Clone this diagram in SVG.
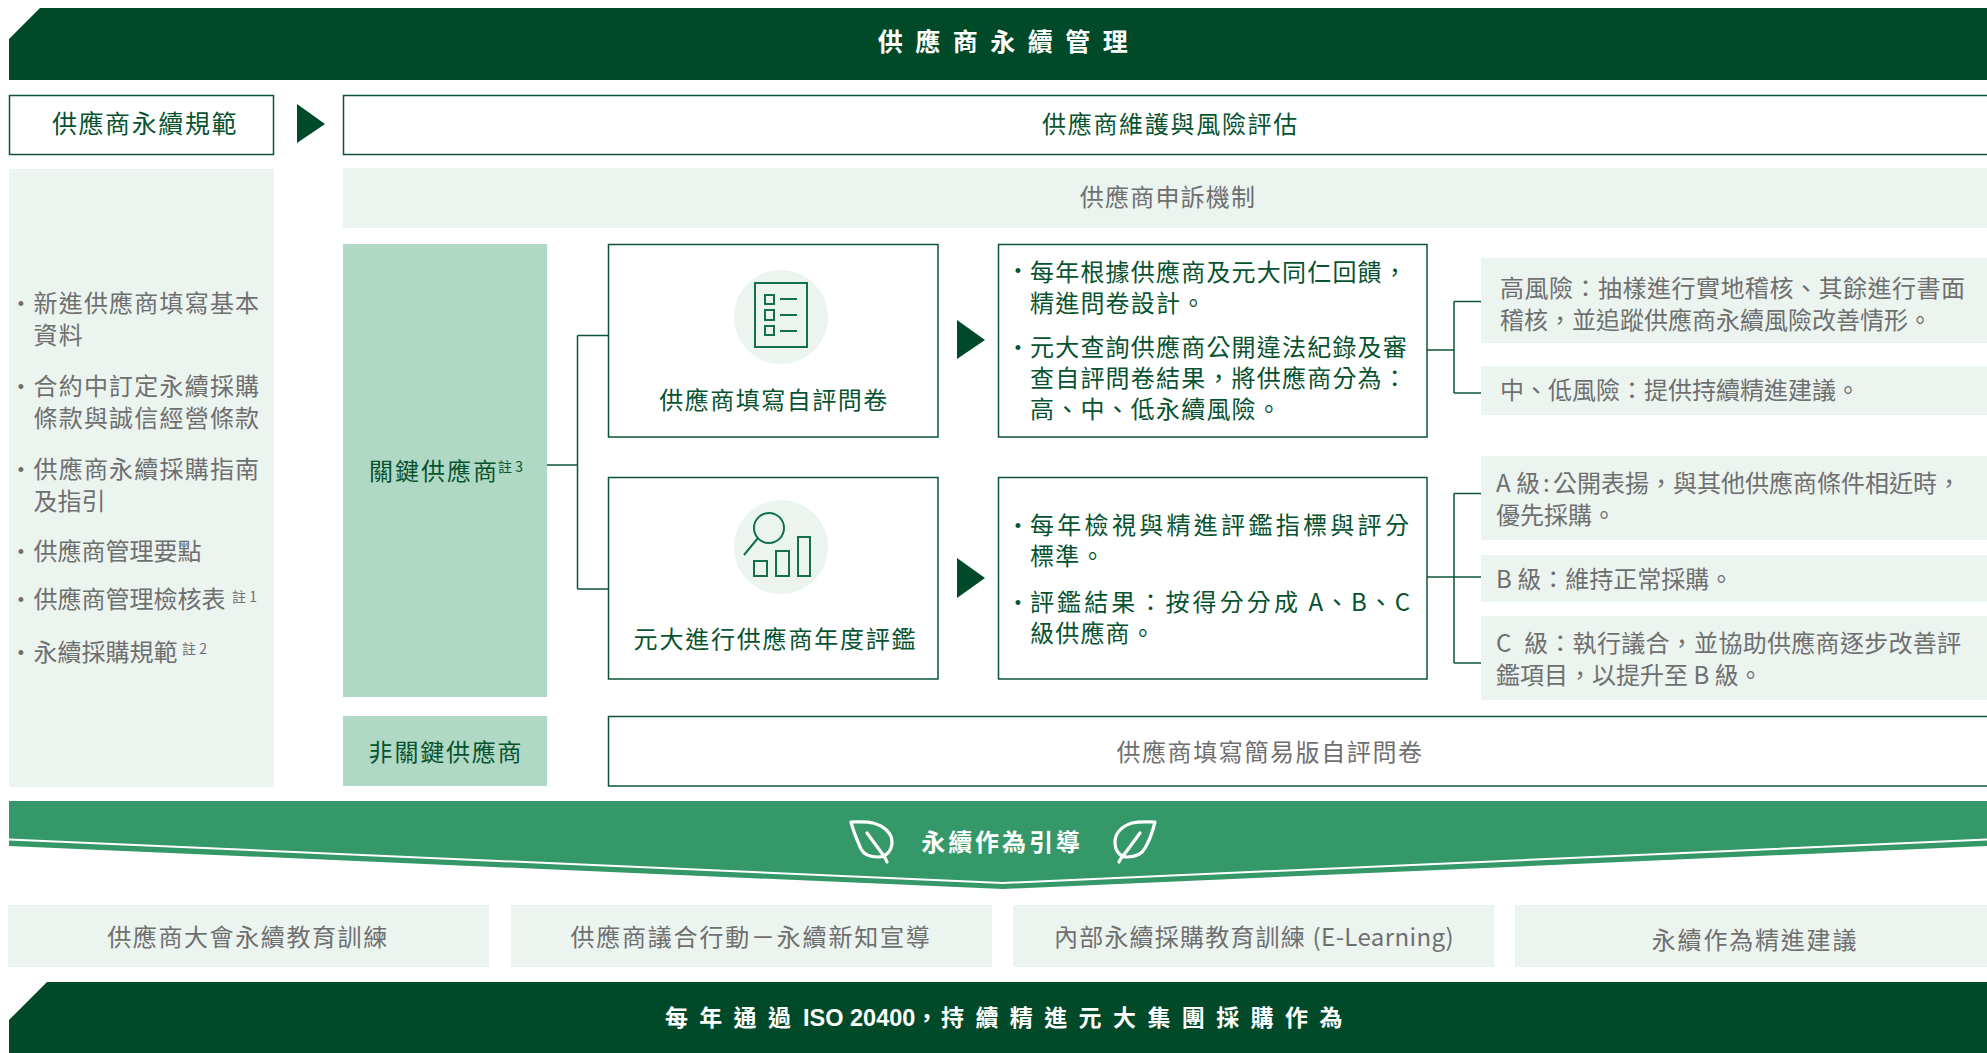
<svg xmlns="http://www.w3.org/2000/svg" width="1987" height="1053" viewBox="0 0 1987 1053">
<style>
text{font-family:"Noto Sans CJK TC","Noto Sans CJK SC",sans-serif;font-size:24px;letter-spacing:1.2px}
.g{fill:#6f6f6f}.d{fill:#07532f}.w{fill:#fff;font-weight:700}
.m{text-anchor:middle}
.z{letter-spacing:0}
.s{font-size:14px;letter-spacing:0}
.bt{font-family:"Liberation Sans","Noto Sans CJK TC",sans-serif;font-size:18px;letter-spacing:0;text-anchor:middle}
.box{fill:#fff;stroke:#0b5435;stroke-width:1.5}
.lt{fill:#ebf4ef}.md{fill:#afd8c5}.dk{fill:#004a29}
.con{fill:none;stroke:#0b5435;stroke-width:1.5}
.ic{fill:none;stroke:#127146;stroke-width:2}
.lf{fill:none;stroke:#fff;stroke-width:3.2;stroke-linecap:round;stroke-linejoin:round}
</style>
<g id="connectors">
<path class="con" d="M547 465H577.5M577.5 335.500V589M577.5 335.500H608M577.5 589H608"/>
<path class="con" d="M1427 350H1454M1454 301.500V393M1454 301.500H1483M1454 393H1483"/>
<path class="con" d="M1427 577H1481M1454 493.500V663M1454 493.500H1483M1454 663H1483"/>
<path class="dk" d="M297 104L325 124L297 143Z"/>
<path class="dk" d="M957 320L985 340L957 359Z"/>
<path class="dk" d="M957 558L985 578L957 598Z"/>
</g>
<g id="title"><path class="dk" d="M9 39L40 8H1987V80H9Z"/>
<text class="w m" x="1009" y="51" style="font-size:25px;letter-spacing:12.500px">供應商永續管理</text></g>
<g id="norm"><rect class="box" x="9.500" y="95.500" width="264" height="59"/><text class="d m" x="145" y="133" style="font-size:25px;letter-spacing:1.600px">供應商永續規範</text></g>
<g id="maintain"><rect class="box" x="343.500" y="95.500" width="1650" height="59"/><text class="d m" x="1170.500" y="133" style="letter-spacing:1.700px">供應商維護與風險評估</text></g>
<g id="appeal"><rect class="lt" x="343" y="168" width="1644" height="60"/><text class="g m" x="1168" y="206">供應商申訴機制</text></g>
<g id="norm-list"><rect class="lt" x="9" y="169" width="265" height="618"/>
<text class="g bt" x="21" y="309.500">•</text><text class="g" x="33.500" y="312">新進供應商填寫基本</text><text class="g" x="33.500" y="344">資料</text>
<text class="g bt" x="21" y="392.500">•</text><text class="g" x="33.500" y="395">合約中訂定永續採購</text><text class="g" x="33.500" y="427">條款與誠信經營條款</text>
<text class="g bt" x="21" y="475.500">•</text><text class="g" x="33.500" y="478">供應商永續採購指南</text><text class="g z" x="33.500" y="510">及指引</text>
<text class="g bt" x="21" y="557.500">•</text><text class="g z" x="33.500" y="560">供應商管理要點</text>
<text class="g bt" x="21" y="605.500">•</text><text class="g z" x="33.500" y="608">供應商管理檢核表</text><text class="g s" x="232" y="602">註 1</text>
<text class="g bt" x="21" y="658.500">•</text><text class="g z" x="33.500" y="661">永續採購規範</text><text class="g s" x="182" y="654">註 2</text></g>
<g id="key"><rect class="md" x="343" y="244" width="204" height="453"/><text class="d" x="369" y="480" style="letter-spacing:2px">關鍵供應商</text><text class="d s" x="498" y="472">註 3</text></g>
<g id="nonkey"><rect class="md" x="343" y="716" width="204" height="70"/><text class="d m" x="446" y="761" style="letter-spacing:1.800px">非關鍵供應商</text></g>
<g id="simple"><rect class="box" x="608.500" y="716.500" width="1385" height="69.500"/><text class="g m" x="1270" y="761" style="letter-spacing:1.600px">供應商填寫簡易版自評問卷</text></g>
<g id="self"><rect class="box" x="608.500" y="244.500" width="329.500" height="192.500"/><circle class="lt" cx="781" cy="317" r="47"/>
<path class="ic" d="M755 283H807V347H755ZM765 295H774V304H765ZM765 310H774V320H765ZM765 326H774V335H765ZM780 299H797M780 315H797M780 331H797"/>
<text class="d m" x="774" y="409" style="letter-spacing:1.500px">供應商填寫自評問卷</text></g>
<g id="annual"><rect class="box" x="608.500" y="477.500" width="329.500" height="201.500"/><circle class="lt" cx="781" cy="547" r="47"/>
<circle class="ic" cx="769" cy="528" r="15"/><path class="ic" d="M758 538L744 555M754 561H767V576H754ZM776 551H789V576H776ZM798 537H810V576H798Z"/>
<text class="d m" x="775.500" y="648" style="letter-spacing:1.800px">元大進行供應商年度評鑑</text></g>
<g id="self-detail"><rect class="box" x="998.500" y="244.500" width="428.500" height="192.500"/>
<text class="d bt" x="1018" y="276.500">•</text><text class="d" x="1030" y="281">每年根據供應商及元大同仁回饋，</text><text class="d" x="1030" y="312">精進問卷設計。</text>
<text class="d bt" x="1018" y="353.500">•</text><text class="d" x="1030" y="356">元大查詢供應商公開違法紀錄及審</text><text class="d" x="1030" y="387">查自評問卷結果，將供應商分為：</text><text class="d" x="1030" y="418">高、中、低永續風險。</text></g>
<g id="annual-detail"><rect class="box" x="998.500" y="477.500" width="428.500" height="201.500"/>
<text class="d bt" x="1018" y="531.500">•</text><text class="d" x="1030" y="534" style="letter-spacing:3.300px">每年檢視與精進評鑑指標與評分</text><text class="d" x="1030" y="565">標準。</text>
<text class="d bt" x="1018" y="608.500">•</text><text class="d" x="1030" y="611" style="letter-spacing:3.100px">評鑑結果：按得分分成<tspan style="letter-spacing:2px"> A、B、C</tspan></text><text class="d" x="1030" y="642">級供應商。</text></g>
<g id="high"><rect class="lt" x="1481" y="258" width="506" height="85"/><text class="g" x="1500" y="297" style="letter-spacing:.5px">高風險：抽樣進行實地稽核、其餘進行書面</text><text class="g z" x="1500" y="329">稽核，並追蹤供應商永續風險改善情形。</text></g>
<g id="low"><rect class="lt" x="1481" y="366" width="506" height="49"/><text class="g z" x="1500" y="399">中、低風險：提供持續精進建議。</text></g>
<g id="a"><rect class="lt" x="1481" y="456" width="506" height="84"/><text class="g z" x="1496" y="492">A 級<tspan x="1543">:</tspan><tspan x="1553">公開表揚，與其他供應商條件相近時，</tspan></text><text class="g z" x="1496" y="524">優先採購。</text></g>
<g id="b"><rect class="lt" x="1481" y="555" width="506" height="47"/><text class="g z" x="1496" y="588">B 級：維持正常採購。</text></g>
<g id="c"><rect class="lt" x="1481" y="616" width="506" height="84"/><text class="g" x="1496" y="652" style="letter-spacing:.3px">C<tspan x="1524">級：執行議合，並協助供應商逐步改善評</tspan></text><text class="g z" x="1496" y="684">鑑項目，以提升至 B 級。</text></g>
<g id="guide"><path fill="#359869" d="M9 801H1987V846L1003 889L9 846Z"/>
<path fill="none" stroke="#fff" stroke-width="2" d="M9 839.500L1003 883L1987 839.500"/>
<path class="lf" d="M851 822C858 822 866 821 873 823C884 826 892 833 892 842C892 851 886 857 878 857C870 857 864 855 861 849C857 840 853 830 851 822ZM867 833L881 852C884 856 886 859 887 862"/>
<path class="lf" d="M1155 822C1148 822 1140 821 1132 823C1122 826 1115 833 1115 842C1115 851 1120 857 1127 857C1135 857 1142 854 1145 848C1150 840 1153 830 1155 822ZM1140 833L1126 852C1123 856 1120 859 1119 862"/>
<text class="w m" x="1002" y="851" style="letter-spacing:2.900px">永續作為引導</text></g>
<g id="p1"><rect class="lt" x="8" y="905" width="481" height="62"/><text class="g m" x="248" y="946" style="letter-spacing:1.600px">供應商大會永續教育訓練</text></g>
<g id="p2"><rect class="lt" x="511" y="905" width="481" height="62"/><text class="g m" x="751" y="946" style="letter-spacing:1.800px">供應商議合行動－永續新知宣導</text></g>
<g id="p3"><rect class="lt" x="1013" y="905" width="481" height="62"/><text class="g" x="1054" y="946">內部永續採購教育訓練 <tspan style="letter-spacing:.4px">(E-Learning)</tspan></text></g>
<g id="p4"><rect class="lt" x="1515" y="905" width="472" height="62"/><text class="g m" x="1755" y="949" style="letter-spacing:1.800px">永續作為精進建議</text></g>
<g id="foot"><path class="dk" d="M9 1020L47 982H1987V1053H9Z"/>
<text class="w" x="665" y="1026" style="font-family:'Liberation Sans','Noto Sans CJK TC',sans-serif;font-size:23px;letter-spacing:11.300px">每年通過<tspan x="803" style="letter-spacing:0;font-size:23.500px">ISO 20400</tspan><tspan style="letter-spacing:0">，</tspan><tspan x="941" style="letter-spacing:11.400px">持續精進元大集團採購作為</tspan></text></g>
</svg>
